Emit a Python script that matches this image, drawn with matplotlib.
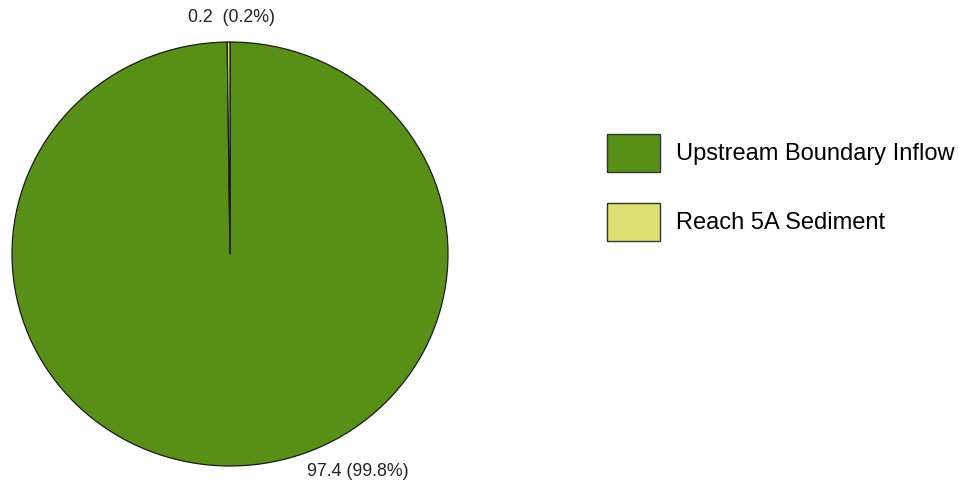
import matplotlib
matplotlib.use("Agg")
import matplotlib.pyplot as plt
from matplotlib.patches import Patch

plt.rcParams['font.family'] = ['Liberation Sans', 'DejaVu Sans']

categories = ["Upstream Boundary Inflow", "Reach 5A Sediment"]
values = [97.4, 0.2]
colors = ["#589017", "#dde172"]

W, H = 958, 488
fig = plt.figure(figsize=(W / 100, H / 100), dpi=100)

# pie area in pixels: centre (230, 254), radii 218 x 212
cx, cy, rx, ry = 230, 254, 218, 212
ax = fig.add_axes([(cx - rx) / W, (H - cy - ry) / H, 2 * rx / W, 2 * ry / H])
wedges, _ = ax.pie(values, colors=colors, startangle=90, counterclock=False,
                   wedgeprops=dict(edgecolor="#1a1a1a", linewidth=0.9))
ax.set_aspect('auto')
ax.set_xlim(-1, 1)
ax.set_ylim(-1, 1)

total = sum(values)
label_pos = [((358 - cx) / rx, (cy - 472) / ry), (1.0 / rx, (cy - 17) / ry)]
fmt = ["{:.1f} ({:.1f}%)", "{:.1f}  ({:.1f}%)"]
for v, (x, y), f in zip(values, label_pos, fmt):
    ax.text(x, y, f.format(v, 100 * v / total), ha="center", va="center",
            fontsize=12.8, color="#222222", clip_on=False)

handles = [Patch(facecolor=c, edgecolor="#333333", linewidth=1.0) for c in colors]
fs = 17
fig.legend(handles, categories, loc="upper left", bbox_to_anchor=(607 / W, 1 - 134 / H),
           frameon=False, fontsize=fs, handlelength=2.25, handleheight=2.08,
           handletextpad=0.68, labelspacing=1.33, borderaxespad=0, borderpad=0)

fig.savefig("out.png", dpi=100)
